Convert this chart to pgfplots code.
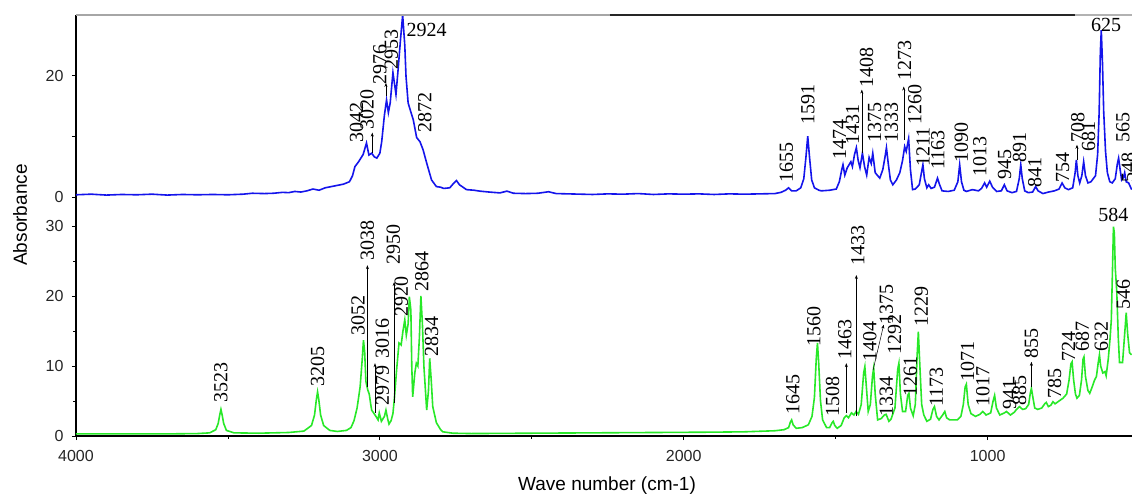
\documentclass[border=0pt]{standalone}
\usepackage{pgfplots}
\pgfplotsset{compat=1.18}
\usepackage{fontspec}
\setmainfont{Liberation Sans}
\newfontfamily\serif{Liberation Serif}
\usetikzlibrary{arrows.meta}

\definecolor{specblue}{RGB}{20,20,235}
\definecolor{specgreen}{RGB}{40,232,40}

\tikzset{
  pk/.style={rotate=90, anchor=west, inner sep=0pt, font=\fontsize{20}{22}\selectfont\serif},
  pkh/.style={inner sep=0pt, font=\fontsize{20}{22}\selectfont\serif},
  arr/.style={-{Stealth[length=4pt,width=3pt]}, line width=0.5pt, black},
}

\pgfplotsset{
  spec/.style={
    scale only axis, width=1056pt,
    x dir=reverse, xmin=525, xmax=4000,
    clip mode=individual,
    tick align=outside, major tick length=4pt, minor tick length=2.5pt,
    tick style={black, line width=0.8pt},
    axis line style={-, black, line width=1.2pt},
    tick label style={font=\fontsize{16}{18}\selectfont, text=black!85},
    xticklabel style={yshift=-7pt},
    yticklabel style={xshift=-5pt},
    /pgf/number format/assume math mode=true,
    /pgf/number format/1000 sep={},
  },
}

\begin{document}
\begin{tikzpicture}
% upper panel (blue)
\begin{axis}[spec, at={(0pt,230pt)}, anchor=south west, height=191pt,
  ymin=-1.5, ymax=30, hide x axis, axis y line*=left,
  ytick={0,10,20}, yticklabels={0,,20}]
\addplot[specblue, line width=1.6pt] coordinates {
(4000,0.35) (3950,0.45) (3900,0.3) (3850,0.4) (3800,0.35) (3750,0.45) (3700,0.3) (3650,0.4) (3600,0.35) (3550,0.4)
(3500,0.35) (3450,0.45) (3420,0.6) (3380,0.55) (3350,0.6) (3320,0.75) (3300,0.7) (3280,0.9) (3260,0.8) (3240,1.0)
(3220,1.3) (3200,1.1) (3180,1.5) (3150,1.8) (3120,2.1) (3100,2.5) (3090,3.5) (3082,5.0) (3070,5.8) (3055,7.0)
(3044,8.9) (3036,6.9) (3027,7.2) (3018,6.6) (3010,6.4) (3000,7.2) (2994,9.1) (2985,13.5) (2978,16.0) (2972,13.9)
(2966,15.5) (2957,20.5) (2950,18.0) (2947,16.9) (2940,21) (2932,26) (2925,30) (2918,25) (2914,19.9) (2907,15.5)
(2898,14.0) (2890,12.7) (2879,9.8) (2868,9.1) (2858,7.8) (2846,5.6) (2830,2.8) (2814,1.7) (2800,1.6) (2790,1.4)
(2770,1.5) (2758,2.2) (2748,2.7) (2738,2.0) (2715,1.2) (2690,1.1) (2671,0.95) (2640,0.8) (2605,0.66) (2582,0.95)
(2560,0.6) (2520,0.55) (2480,0.6) (2445,0.85) (2420,0.55) (2380,0.5) (2300,0.4) (2250,0.5) (2200,0.45) (2150,0.55)
(2100,0.4) (2050,0.5) (2000,0.45) (1950,0.5) (1900,0.4) (1850,0.5) (1800,0.45) (1750,0.5) (1700,0.55) (1680,0.75)
(1665,1.1) (1655,1.5) (1645,1.0) (1630,1.0) (1615,1.5) (1605,3.0) (1598,6.5) (1592,10.0) (1586,6.5) (1579,2.8)
(1570,1.5) (1555,1.1) (1547,1.0) (1520,1.1) (1498,1.3) (1488,2.5) (1480,4.5) (1476,5.3) (1470,3.6) (1462,4.8)
(1450,5.8) (1445,5.0) (1438,7.0) (1432,8.1) (1426,6.0) (1420,4.8) (1412,7.2) (1405,5.0) (1398,3.6) (1390,6.5)
(1383,5.5) (1378,7.2) (1370,4.0) (1362,3.5) (1355,3.1) (1345,4.5) (1338,6.5) (1333,8.1) (1327,5.5) (1320,2.8)
(1312,2.0) (1300,2.8) (1289,4.0) (1280,6.0) (1273,8.3) (1268,7.5) (1260,9.6) (1254,4.5) (1247,1.2) (1238,1.3)
(1225,2.0) (1216,4.5) (1213,5.3) (1208,3.0) (1200,1.5) (1194,2.0) (1186,1.4) (1175,1.6) (1165,3.1) (1158,2.0)
(1150,1.0) (1130,0.9) (1110,1.1) (1098,2.5) (1092,5.3) (1086,2.5) (1078,1.1) (1070,0.9) (1050,1.2) (1030,1.0)
(1020,1.4) (1010,2.3) (1003,1.6) (993,2.6) (984,1.6) (970,0.9) (955,1.0) (945,2.0) (936,1.0) (920,0.7)
(905,0.9) (896,3.0) (891,5.3) (886,3.0) (878,1.0) (866,0.7) (852,0.8) (842,1.7) (834,1.0) (818,0.55)
(800,0.8) (780,1.0) (765,1.3) (755,2.3) (746,1.5) (734,1.2) (720,1.5) (712,4.0) (708,6.1) (703,3.5)
(697,2.3) (690,3.5) (684,5.8) (678,3.5) (670,2.3) (660,2.5) (645,3.5) (638,7) (633,14) (629,24)
(626,27.5) (622,22) (618,14) (612,7.5) (606,4.0) (598,2.5) (590,2.3) (580,3.0) (573,5.5) (569,6.4)
(564,4.5) (559,2.8) (553,3.2) (549,4.0) (544,2.5) (536,2.3) (526,1.2)
};
\draw[gray!70, line width=1.2pt] (axis cs:4000,30) -- (axis cs:2243,30);
\draw[black!85, line width=1.2pt] (axis cs:2243,30) -- (axis cs:714,30);
\draw[gray!60, line width=1.2pt] (axis cs:714,30) -- (axis cs:525,30);
% peak labels
\node[pk] at (axis cs:3077,8.9) {3042};
\node[pk] at (axis cs:3042,11.1) {3020};
\node[pk] at (axis cs:3000,18.5) {2976};
\node[pk] at (axis cs:2962,21) {2953};
\node[pkh, anchor=west] at (axis cs:2913,27.6) {2924};
\node[pk] at (axis cs:2852,10.6) {2872};
\node[pk] at (axis cs:1662,2.3) {1655};
\node[pk] at (axis cs:1592,11.9) {1591};
\node[pk] at (axis cs:1487,6.1) {1474};
\node[pk] at (axis cs:1444,8.6) {1431};
\node[pk] at (axis cs:1398,18.0) {1408};
\node[pk] at (axis cs:1372,8.9) {1375};
\node[pk] at (axis cs:1317,8.9) {1333};
\node[pk] at (axis cs:1273,19.1) {1273};
\node[pk] at (axis cs:1240,11.9) {1260};
\node[pk] at (axis cs:1213,5.0) {1211};
\node[pk] at (axis cs:1164,4.5) {1163};
\node[pk] at (axis cs:1087,5.6) {1090};
\node[pk] at (axis cs:1026,3.4) {1013};
\node[pk] at (axis cs:944,2.8) {945};
\node[pk] at (axis cs:895,5.6) {891};
\node[pk] at (axis cs:845,1.5) {841};
\node[pk] at (axis cs:753,2.3) {754};
\node[pk] at (axis cs:703,8.9) {708};
\node[pk] at (axis cs:668,7.5) {681};
\node[pkh] at (axis cs:610,28.4) {625};
\node[pk] at (axis cs:555,8.9) {565};
\node[pk] at (axis cs:537,2.3) {548};
\draw[arr] (axis cs:3025,7.3) -- (axis cs:3025,10.6);
\draw[arr] (axis cs:2980,16.6) -- (axis cs:2980,18.8);
\draw[arr] (axis cs:1414,7.3) -- (axis cs:1414,17.7);
\draw[arr] (axis cs:1276,9.4) -- (axis cs:1276,18.2);
\draw[arr] (axis cs:706,6.1) -- (axis cs:706,8.6);
\end{axis}

% lower panel (green)
\begin{axis}[spec, at={(0pt,0pt)}, anchor=south west, height=231pt,
  ymin=0, ymax=33, axis x line*=bottom, axis y line*=left,
  ytick={0,10,20,30}, minor ytick={5,15,25},
  xtick={1000,2000,3000,4000}, minor xtick={1500,2500,3500}]
\addplot[specgreen, line width=1.6pt] coordinates {
(4000,0.3) (3700,0.3) (3600,0.35) (3560,0.45) (3540,0.9) (3532,1.8) (3527,3.0) (3523,3.8) (3519,3.0) (3514,1.8)
(3505,0.8) (3480,0.45) (3400,0.4) (3300,0.5) (3250,0.7) (3225,1.5) (3215,3.0) (3209,5.2) (3205,6.3) (3201,5.2)
(3195,3.0) (3185,1.5) (3165,0.8) (3140,0.65) (3110,0.8) (3095,1.2) (3085,2.2) (3075,4.0) (3065,7.0) (3058,11.0)
(3054,13.7) (3050,12.0) (3046,7.8) (3040,6.6) (3035,6.0) (3030,4.5) (3027,3.7) (3016,3.0) (3010,2.6) (3006,2.3)
(3002,3.3) (2995,2.1) (2985,2.8) (2980,3.7) (2974,2.4) (2970,1.7) (2963,2.2) (2957,3.2) (2952,5.5) (2945,9.4)
(2937,13.3) (2930,13.0) (2924,15.0) (2918,16.6) (2913,14.4) (2907,16) (2903,19.9) (2898,18) (2895,10) (2892,5.6)
(2885,9.0) (2880,10.4) (2875,10.0) (2870,14) (2865,20.0) (2860,16) (2855,9.9) (2850,6.5) (2846,3.7) (2840,6.5)
(2836,11.1) (2831,8) (2826,4.2) (2814,1.9) (2800,0.9) (2793,0.6) (2760,0.4) (2700,0.35) (2500,0.4) (2300,0.45)
(2100,0.5) (1900,0.55) (1800,0.6) (1700,0.75) (1670,0.9) (1655,1.2) (1649,2.0) (1645,2.3) (1640,1.6) (1630,1.1)
(1610,1.2) (1590,1.6) (1578,2.8) (1570,5.5) (1564,11) (1560,13.3) (1556,10.5) (1550,5) (1543,2.3) (1530,1.2)
(1520,1.2) (1512,1.9) (1508,2.1) (1503,1.5) (1495,1.1) (1482,1.5) (1472,2.6) (1465,2.9) (1458,2.6) (1448,3.3)
(1440,3.0) (1433,3.5) (1425,3.1) (1416,4.5) (1408,9.0) (1404,9.9) (1399,7) (1393,3.5) (1386,4.5) (1379,8.5)
(1375,9.7) (1370,6) (1362,2.3) (1350,2.5) (1340,3.0) (1334,3.1) (1325,2.1) (1318,2.4) (1305,4.0) (1296,9.5)
(1292,10.4) (1287,6) (1280,3.5) (1270,3.5) (1263,5.8) (1259,6.1) (1254,4.0) (1245,2.9) (1238,4.5) (1232,11.5)
(1228,14.9) (1223,10.0) (1217,4.5) (1210,3.0) (1200,2.1) (1188,2.4) (1180,3.8) (1175,4.2) (1168,2.8) (1160,2.3)
(1148,3.0) (1141,3.5) (1135,2.6) (1125,2.3) (1100,2.3) (1088,2.8) (1080,4.5) (1074,7.0) (1070,7.4) (1064,4.5)
(1055,3.2) (1040,2.8) (1025,3.1) (1016,3.5) (1005,3.0) (990,3.3) (982,5.0) (977,5.8) (971,4.0) (960,3.0)
(945,3.3) (938,3.5) (925,3.0) (912,3.4) (905,3.8) (895,4.2) (885,3.8) (875,3.9) (865,4.5) (860,6.0)
(856,6.8) (851,5.5) (845,4.0) (835,3.8) (822,4.0) (812,4.6) (807,4.8) (800,4.2) (792,4.4) (785,4.9)
(778,4.6) (765,5.0) (752,5.4) (740,6.0) (732,8.0) (726,10.3) (722,10.6) (717,8.0) (711,6.0) (706,5.4)
(698,5.8) (691,8.0) (686,11.0) (683,11.3) (678,8.5) (670,6.5) (664,6.1) (656,7.0) (648,8.0) (642,8.5)
(636,10.5) (632,11.6) (628,10.0) (621,9.0) (614,9.2) (610,8.6) (603,11.0) (597,14.0) (593,16.6) (589,24.0)
(586,29.9) (583,29.0) (580,24.0) (575,20.6) (570,14.0) (566,10.5) (556,10.5) (550,14) (544,17.6) (539,14.5)
(533,11.9) (526,11.6)
};
\node[pk] at (axis cs:3523,4.8) {3523};
\node[pk] at (axis cs:3205,7.0) {3205};
\node[pk] at (axis cs:3072,14.4) {3052};
\node[pk] at (axis cs:3041,25.0) {3038};
\node[pk] at (axis cs:2992,11.1) {3016};
\node[pk] at (axis cs:2992,4.4) {2979};
\node[pk] at (axis cs:2956,24.5) {2950};
\node[pk] at (axis cs:2929,17.0) {2920};
\node[pk] at (axis cs:2862,20.6) {2864};
\node[pk] at (axis cs:2830,11.3) {2834};
\node[pk] at (axis cs:1641,3.0) {1645};
\node[pk] at (axis cs:1572,12.8) {1560};
\node[pk] at (axis cs:1510,2.8) {1508};
\node[pk] at (axis cs:1470,10.9) {1463};
\node[pk] at (axis cs:1427,24.4) {1433};
\node[pk] at (axis cs:1388,10.6) {1404};
\node[pk] at (axis cs:1333,15.9) {1375};
\node[pk] at (axis cs:1333,2.8) {1334};
\node[pk] at (axis cs:1306,11.6) {1292};
\node[pk] at (axis cs:1254,5.6) {1261};
\node[pk] at (axis cs:1218,15.6) {1229};
\node[pk] at (axis cs:1169,4.2) {1173};
\node[pk] at (axis cs:1066,7.8) {1071};
\node[pk] at (axis cs:1016,4.2) {1017};
\node[pk] at (axis cs:928,3.7) {941};
\node[pk] at (axis cs:895,4.4) {885};
\node[pk] at (axis cs:856,11.0) {855};
\node[pk] at (axis cs:780,5.4) {785};
\node[pk] at (axis cs:734,10.6) {724};
\node[pk] at (axis cs:688,12.0) {687};
\node[pk] at (axis cs:626,12.0) {632};
\node[pkh] at (axis cs:586,31.6) {584};
\node[pk] at (axis cs:553,18.0) {546};
\draw[arr] (axis cs:3041,7.0) -- (axis cs:3041,24.4);
\draw[arr] (axis cs:3016,3.3) -- (axis cs:3016,10.4);
\draw[arr] (axis cs:2953,4.7) -- (axis cs:2953,22);
\draw[arr] (axis cs:1465,3.3) -- (axis cs:1465,10.4);
\draw[arr] (axis cs:1432,2.8) -- (axis cs:1432,23);
\draw[arr] (axis cs:1377,9.4) -- (axis cs:1342,15.9);
\draw[arr] (axis cs:856,7.0) -- (axis cs:856,10.6);
\end{axis}

\node[rotate=90, font=\fontsize{19}{21}\selectfont] at (-56pt,221pt) {Absorbance};
\node[font=\fontsize{19}{21}\selectfont] at (531pt,-50pt) {Wave number (cm-1)};
\pgfresetboundingbox
\useasboundingbox (-76pt,-60pt) rectangle (1056pt,436pt);
\end{tikzpicture}
\end{document}
